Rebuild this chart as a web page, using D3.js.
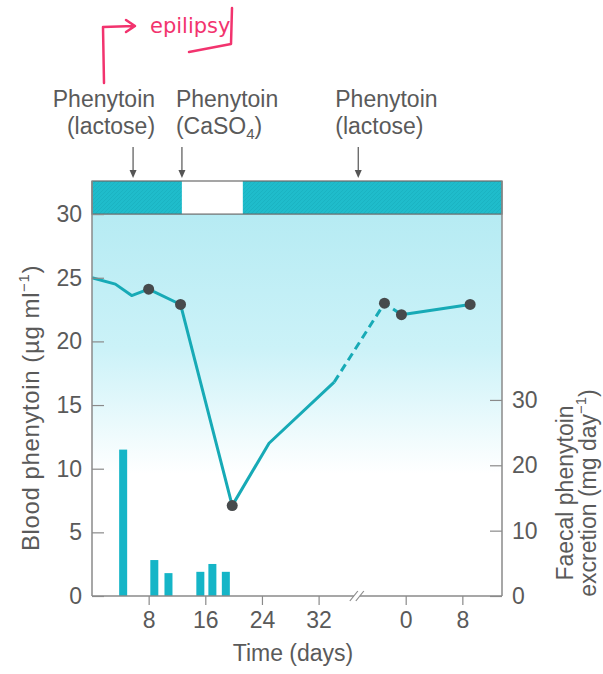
<!DOCTYPE html>
<html>
<head>
<meta charset="utf-8">
<script src="https://cdn.jsdelivr.net/npm/d3@7/dist/d3.min.js"></script>
<style>
body { margin: 0; background: #fff; }
text { font-family: "Liberation Sans", Arial, sans-serif; fill: #5a5a5a; }
</style>
</head>
<body>
<svg id="chart" width="603" height="674"></svg>
<script>
// ---- data ----
// days of the second period are counted from its own 0
var secondOffset = 44.3;
var breakDay = 37.4;
var xMax = 57.9;

var xTicks1 = [8, 16, 24, 32];
var xTicks2 = [0, 8];
var bloodTicks = [0, 5, 10, 15, 20, 25, 30];
var faecalTicks = [0, 10, 20, 30];

// blood phenytoin (ug/ml), first period
var bloodDays1 = [0, 3.3, 5.6, 8, 12.5, 19.8, 25, 34.2];
var bloodVals1 = [25, 24.5, 23.6, 24.1, 22.9, 7.1, 12, 16.8];
var bloodDots1 = [false, false, false, true, true, true, false, false];
// second period
var bloodDays2 = [-3, -0.6, 9.1];
var bloodVals2 = [23.0, 22.1, 22.9];

// faecal phenytoin excretion (mg/day)
var faecalDays = [4.4, 8.8, 10.8, 15.3, 17.0, 18.9];
var faecalVals = [22.4, 5.5, 3.5, 3.7, 4.9, 3.7];

// treatment band
var bandStart = [0, 12.7, 21.3];
var bandEnd = [12.7, 21.3, xMax];
var bandLactose = [true, false, true];

var arrowDays = [5.8, 12.7, 37.6];
var arrowLine1 = ["Phenytoin", "Phenytoin", "Phenytoin"];
var arrowLine2 = ["(lactose)", "(CaSO", "(lactose)"];
var arrowSub = ["", "4", ""];

// ---- layout ----
var svg = d3.select('#chart');
var margin = {top: 181, right: 101, bottom: 78, left: 92};
var width = 603 - margin.left - margin.right;
var height = 674 - margin.top - margin.bottom;

var x = d3.scaleLinear().domain([0, xMax]).range([0, width]);
var yBlood = d3.scaleLinear().domain([0, 32.6]).range([height, 0]);
var yFaecal = d3.scaleLinear().domain([0, 63.5]).range([height, 0]);

var teal = '#1fbccb';
var lineCol = '#17aab6';
var axisCol = '#8a8a8a';
var fs = '23px';

var defs = svg.append('defs');
var grad = defs.append('linearGradient').attr('id', 'bg')
	.attr('x1', 0).attr('y1', 0).attr('x2', 0).attr('y2', 1);
grad.append('stop').attr('offset', '0%').attr('stop-color', '#b6ebf3');
grad.append('stop').attr('offset', '35%').attr('stop-color', '#cbf2f8');
grad.append('stop').attr('offset', '68%').attr('stop-color', '#ffffff');

var hatch = defs.append('pattern').attr('id', 'hatch')
	.attr('width', 4).attr('height', 4).attr('patternUnits', 'userSpaceOnUse');
hatch.append('rect').attr('width', 4).attr('height', 4).attr('fill', teal);
hatch.append('path').attr('d', 'M0,4 L4,0').attr('stroke', '#16a9b9').attr('stroke-width', 0.8).attr('opacity', 0.6);

var g = svg.append('g').attr('transform', 'translate(' + margin.left + ',' + margin.top + ')');

// background gradient
g.append('rect')
	.attr('x', 0).attr('y', yBlood(30))
	.attr('width', width).attr('height', yBlood(0) - yBlood(30))
	.attr('fill', 'url(#bg)');

// treatment band
g.selectAll('.band')
	.data(bandStart)
	.enter().append('rect')
	.attr('class', 'band')
	.attr('x', function(d){ return x(d); })
	.attr('y', yBlood(32.6))
	.attr('width', function(d, i){ return x(bandEnd[i]) - x(d); })
	.attr('height', yBlood(30) - yBlood(32.6))
	.attr('fill', function(d, i){ return bandLactose[i] ? 'url(#hatch)' : '#fff'; });
g.append('rect')
	.attr('x', 0).attr('y', yBlood(32.6))
	.attr('width', width).attr('height', yBlood(30) - yBlood(32.6))
	.attr('fill', 'none').attr('stroke', '#6a6a6a').attr('stroke-width', 1.2);

// faecal bars
var barW = 8;
g.selectAll('.bar')
	.data(faecalVals)
	.enter().append('rect')
	.attr('class', 'bar')
	.attr('x', function(d, i){ return x(faecalDays[i]) - barW / 2; })
	.attr('y', function(d){ return yFaecal(d); })
	.attr('width', barW)
	.attr('height', function(d){ return height - yFaecal(d); })
	.attr('fill', '#15b5c7');

// blood line
var pts1 = bloodDays1.map(function(d, i){ return [x(d), yBlood(bloodVals1[i])]; });
var pts2 = bloodDays2.map(function(d, i){ return [x(d + secondOffset), yBlood(bloodVals2[i])]; });
var line = d3.line();

g.append('path').attr('d', line(pts1))
	.attr('fill', 'none').attr('stroke', lineCol).attr('stroke-width', 3).attr('stroke-linejoin', 'round');
g.append('path').attr('d', line([pts1[pts1.length - 1], pts2[0], pts2[1]]))
	.attr('fill', 'none').attr('stroke', lineCol).attr('stroke-width', 3).attr('stroke-dasharray', '8,5');
g.append('path').attr('d', line(pts2.slice(1)))
	.attr('fill', 'none').attr('stroke', lineCol).attr('stroke-width', 3);

var dots = pts1.filter(function(p, i){ return bloodDots1[i]; }).concat(pts2);
g.selectAll('.dot')
	.data(dots)
	.enter().append('circle')
	.attr('class', 'dot')
	.attr('cx', function(d){ return d[0]; })
	.attr('cy', function(d){ return d[1]; })
	.attr('r', 5.5)
	.attr('fill', '#474a4c');

// axes
var xTickPos = xTicks1.concat(xTicks2.map(function(d){ return d + secondOffset; }));
var xTickLab = xTicks1.concat(xTicks2);
var xAxis = d3.axisBottom(x)
	.tickValues(xTickPos)
	.tickFormat(function(d, i){ return xTickLab[i]; })
	.tickSize(9).tickPadding(7);
var gx = g.append('g').attr('transform', 'translate(0,' + height + ')').call(xAxis);

var gl = g.append('g').call(d3.axisLeft(yBlood).tickValues(bloodTicks).tickSize(-12).tickPadding(10));
var gr = g.append('g').attr('transform', 'translate(' + width + ',0)')
	.call(d3.axisRight(yFaecal).tickValues(faecalTicks).tickSize(-12).tickPadding(10));

[gx, gl, gr].forEach(function(a){
	a.select('.domain').remove();
	a.selectAll('line').attr('stroke', axisCol).attr('stroke-width', 1.2);
	a.selectAll('text').style('font-size', fs).attr('fill', '#5a5a5a');
});

// frame with axis break
g.append('line').attr('x1', 0).attr('x2', 0).attr('y1', 0).attr('y2', height)
	.attr('stroke', axisCol).attr('stroke-width', 1.5);
g.append('line').attr('x1', width).attr('x2', width).attr('y1', 0).attr('y2', height)
	.attr('stroke', axisCol).attr('stroke-width', 1.5);
g.append('line').attr('x1', 0).attr('x2', x(breakDay) - 3).attr('y1', height).attr('y2', height)
	.attr('stroke', axisCol).attr('stroke-width', 1.5);
g.append('line').attr('x1', x(breakDay) + 3).attr('x2', width).attr('y1', height).attr('y2', height)
	.attr('stroke', axisCol).attr('stroke-width', 1.5);
[-3, 3].forEach(function(o){
	g.append('line')
		.attr('x1', x(breakDay) + o - 4).attr('y1', height + 5)
		.attr('x2', x(breakDay) + o + 4).attr('y2', height - 5)
		.attr('stroke', axisCol).attr('stroke-width', 1.2);
});

// treatment arrows and labels
var labelShift = [22, -6, -23];
var labelAnchor = ['end', 'start', 'start'];
arrowDays.forEach(function(d, i){
	var ax = x(d);
	g.append('line').attr('x1', ax).attr('x2', ax).attr('y1', -34).attr('y2', -8)
		.attr('stroke', '#555').attr('stroke-width', 1.2);
	g.append('path').attr('d', 'M' + (ax - 3.5) + ',-11 L' + (ax + 3.5) + ',-11 L' + ax + ',-3 Z')
		.attr('fill', '#555');
	var t = g.append('text').attr('text-anchor', labelAnchor[i]).style('font-size', fs);
	t.append('tspan').attr('x', ax + labelShift[i]).attr('y', -74).text(arrowLine1[i]);
	t.append('tspan').attr('x', ax + labelShift[i]).attr('y', -47).text(arrowLine2[i]);
	if(arrowSub[i]){
		t.append('tspan').attr('dy', 5).style('font-size', '15px').text(arrowSub[i]);
		t.append('tspan').attr('dy', -5).text(')');
	}
});

// axis titles
svg.append('text')
	.attr('transform', 'translate(39,408) rotate(-90)')
	.attr('text-anchor', 'middle').style('font-size', '24px').style('letter-spacing', '0.6px')
	.call(function(t){
		t.append('tspan').text('Blood phenytoin (\u00b5g ml');
		t.append('tspan').attr('dy', -10).style('font-size', '15px').text('\u22121');
		t.append('tspan').attr('dy', 10).text(')');
	});

var rt = svg.append('text')
	.attr('transform', 'translate(573,493) rotate(-90)')
	.attr('text-anchor', 'middle').style('font-size', fs);
rt.append('tspan').attr('x', 0).attr('y', 0).text('Faecal phenytoin');
rt.append('tspan').attr('x', 0).attr('y', 23).text('excretion (mg day');
rt.append('tspan').attr('dy', -10).style('font-size', '15px').text('\u22121');
rt.append('tspan').attr('dy', 10).text(')');

svg.append('text')
	.attr('x', 293).attr('y', 661)
	.attr('text-anchor', 'middle').style('font-size', fs)
	.text('Time (days)');

// handwritten note
svg.append('path')
	.attr('d', 'M104,83 L103,27 L134,26 M126,20 L135,26 L126,32 M232,8 L231,44 L189,52')
	.attr('fill', 'none').attr('stroke', '#f2336e').attr('stroke-width', 2.5)
	.attr('stroke-linecap', 'round').attr('stroke-linejoin', 'round');
svg.append('text')
	.attr('x', 150).attr('y', 33)
	.style('font-family', '"DejaVu Sans", sans-serif').style('font-size', '21px')
	.style('fill', '#f2336e')
	.text('epilipsy');
</script>
</body>
</html>
